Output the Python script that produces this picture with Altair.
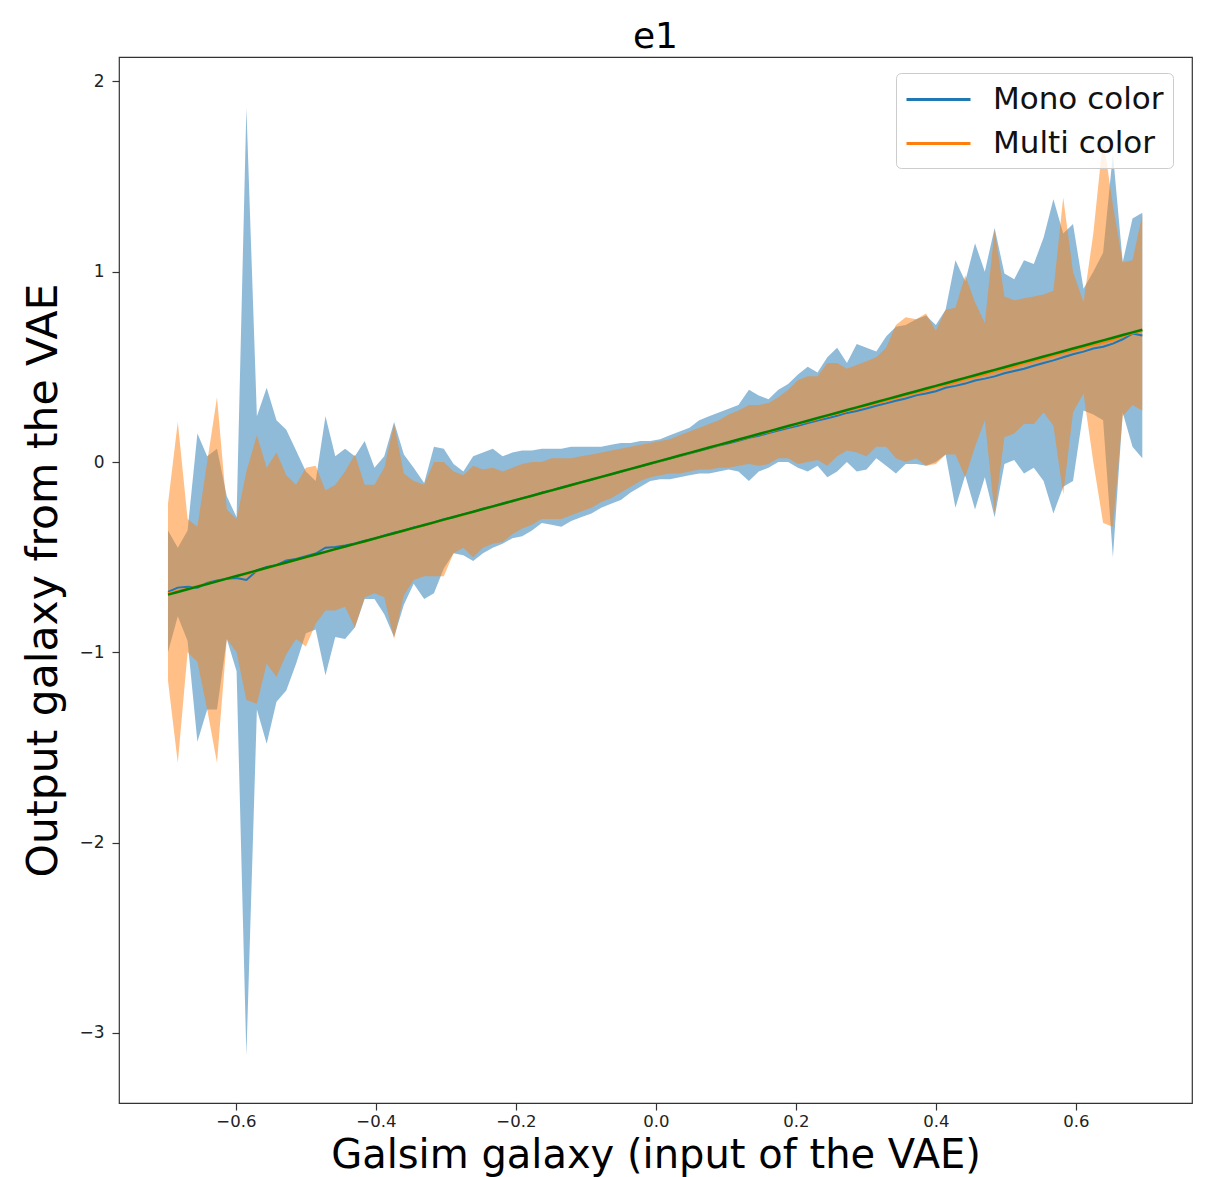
import altair as alt
import pandas as pd

# x grid (input ellipticity bins)
x_vals = [-0.697, -0.683, -0.669, -0.655, -0.641, -0.627, -0.613, -0.599, -0.585, -0.570,
          -0.556, -0.542, -0.528, -0.514, -0.500, -0.486, -0.472, -0.458, -0.444, -0.430,
          -0.416, -0.402, -0.388, -0.374, -0.360, -0.346, -0.331, -0.317, -0.303, -0.289,
          -0.275, -0.261, -0.247, -0.233, -0.219, -0.205, -0.191, -0.177, -0.163, -0.149,
          -0.135, -0.121, -0.107, -0.092, -0.078, -0.064, -0.050, -0.036, -0.022, -0.008,
          0.006, 0.020, 0.034, 0.048, 0.062, 0.076, 0.090, 0.104, 0.118, 0.133,
          0.147, 0.161, 0.175, 0.189, 0.203, 0.217, 0.231, 0.245, 0.259, 0.273,
          0.287, 0.301, 0.315, 0.329, 0.343, 0.357, 0.372, 0.386, 0.400, 0.414,
          0.428, 0.442, 0.456, 0.470, 0.484, 0.498, 0.512, 0.526, 0.540, 0.554,
          0.568, 0.582, 0.596, 0.611, 0.625, 0.639, 0.653, 0.667, 0.681, 0.695]

# Mono color band
mono_hi = [-0.36, -0.45, -0.36, 0.15, 0.03, 0.07, -0.18, -0.29, 1.86, 0.24,
           0.39, 0.22, 0.17, 0.06, -0.05, -0.10, 0.24, 0.03, 0.07, 0.03,
           0.11, -0.03, 0.03, 0.21, 0.04, -0.03, -0.11, 0.08, 0.07, -0.01,
           -0.05, 0.03, 0.05, 0.07, 0.03, 0.05, 0.06, 0.06, 0.07, 0.07,
           0.07, 0.08, 0.08, 0.08, 0.08, 0.09, 0.10, 0.10, 0.11, 0.11,
           0.12, 0.14, 0.16, 0.18, 0.22, 0.24, 0.26, 0.28, 0.30, 0.38,
           0.35, 0.33, 0.38, 0.41, 0.46, 0.50, 0.47, 0.55, 0.60, 0.52,
           0.62, 0.60, 0.58, 0.66, 0.71, 0.72, 0.75, 0.77, 0.72, 0.80,
           1.06, 0.95, 1.15, 1.00, 1.23, 0.99, 0.96, 1.06, 1.04, 1.18,
           1.38, 1.20, 1.25, 0.91, 1.00, 1.10, 1.62, 1.05, 1.28, 1.31]
mono_lo = [-1.00, -0.81, -0.94, -1.47, -1.30, -1.30, -0.93, -1.10, -3.12, -1.30,
           -1.48, -1.26, -1.20, -1.06, -0.90, -0.88, -1.12, -0.92, -0.93, -0.87,
           -0.72, -0.72, -0.80, -0.92, -0.75, -0.64, -0.72, -0.69, -0.56, -0.48,
           -0.49, -0.52, -0.48, -0.45, -0.43, -0.40, -0.39, -0.36, -0.32, -0.33,
           -0.34, -0.31, -0.29, -0.27, -0.24, -0.22, -0.20, -0.16, -0.13, -0.10,
           -0.09, -0.09, -0.08, -0.07, -0.06, -0.06, -0.05, -0.04, -0.05, -0.10,
           -0.05, -0.03, 0.00, 0.00, -0.03, -0.05, -0.02, -0.08, -0.05, 0.00,
           -0.05, -0.04, 0.02, -0.02, -0.06, -0.01, -0.01, -0.02, 0.00, 0.04,
           -0.24, -0.07, -0.25, -0.08, -0.29, -0.01, 0.01, -0.06, -0.03, -0.10,
           -0.27, -0.13, -0.10, 0.27, 0.25, 0.22, -0.50, 0.26, 0.08, 0.02]

# Multi color band
multi_hi = [-0.22, 0.21, -0.30, -0.34, 0.00, 0.34, -0.25, -0.30, -0.05, 0.14,
            -0.03, 0.05, -0.07, -0.12, -0.03, -0.02, -0.15, -0.12, -0.05, 0.04,
            -0.12, -0.12, -0.03, 0.20, -0.06, -0.10, -0.12, 0.00, 0.00, -0.05,
            -0.07, -0.02, -0.04, -0.03, -0.05, -0.03, -0.01, 0.00, 0.00, 0.02,
            0.02, 0.02, 0.03, 0.04, 0.05, 0.06, 0.07, 0.08, 0.09, 0.10,
            0.11, 0.12, 0.14, 0.16, 0.18, 0.20, 0.22, 0.25, 0.27, 0.30,
            0.30, 0.31, 0.34, 0.38, 0.43, 0.45, 0.45, 0.52, 0.52, 0.49,
            0.51, 0.53, 0.55, 0.60, 0.72, 0.76, 0.75, 0.78, 0.69, 0.80,
            0.81, 0.98, 0.84, 0.73, 1.22, 0.87, 0.85, 0.86, 0.87, 0.88,
            0.90, 1.39, 1.00, 0.84, 1.20, 1.70, 1.35, 1.05, 1.06, 1.30]
multi_lo = [-1.15, -1.58, -1.00, -1.05, -1.30, -1.58, -0.93, -1.00, -1.25, -1.27,
            -1.06, -1.13, -1.01, -0.93, -0.97, -0.85, -0.78, -0.78, -0.76, -0.87,
            -0.71, -0.69, -0.71, -0.93, -0.70, -0.62, -0.60, -0.60, -0.60, -0.48,
            -0.45, -0.50, -0.45, -0.43, -0.42, -0.38, -0.35, -0.33, -0.30, -0.30,
            -0.30, -0.28, -0.26, -0.24, -0.21, -0.19, -0.16, -0.13, -0.10, -0.08,
            -0.07, -0.06, -0.06, -0.05, -0.04, -0.04, -0.03, -0.03, -0.02, -0.01,
            -0.02, -0.01, 0.02, 0.02, -0.01, 0.00, 0.01, -0.02, 0.03, 0.06,
            0.05, 0.03, 0.08, 0.08, 0.02, 0.00, 0.02, -0.02, -0.01, 0.04,
            0.04, -0.08, 0.08, 0.22, -0.27, 0.13, 0.15, 0.20, 0.20, 0.26,
            0.19, -0.17, 0.26, 0.36, 0.00, -0.32, -0.34, 0.24, 0.30, 0.27]

# Mean outputs
mono_mean = [-0.682, -0.660, -0.655, -0.660, -0.636, -0.622, -0.613, -0.609, -0.620, -0.570,
             -0.551, -0.542, -0.518, -0.509, -0.495, -0.481, -0.450, -0.446, -0.439, -0.428,
             -0.414, -0.403, -0.386, -0.372, -0.361, -0.344, -0.333, -0.318, -0.301, -0.290,
             -0.274, -0.262, -0.246, -0.234, -0.218, -0.206, -0.190, -0.178, -0.162, -0.150,
             -0.134, -0.122, -0.106, -0.094, -0.078, -0.065, -0.051, -0.037, -0.023, -0.010,
             0.004, 0.018, 0.031, 0.045, 0.059, 0.072, 0.086, 0.099, 0.112, 0.127,
             0.138, 0.152, 0.165, 0.178, 0.190, 0.205, 0.218, 0.230, 0.243, 0.258,
             0.268, 0.281, 0.296, 0.308, 0.322, 0.334, 0.350, 0.360, 0.372, 0.390,
             0.400, 0.412, 0.428, 0.438, 0.450, 0.466, 0.478, 0.490, 0.506, 0.520,
             0.534, 0.550, 0.566, 0.580, 0.596, 0.606, 0.622, 0.645, 0.675, 0.665]
multi_mean = [-0.690, -0.678, -0.666, -0.652, -0.640, -0.628, -0.612, -0.600, -0.590, -0.573,
              -0.558, -0.545, -0.530, -0.515, -0.502, -0.488, -0.475, -0.460, -0.446, -0.432,
              -0.419, -0.404, -0.390, -0.376, -0.363, -0.348, -0.334, -0.320, -0.305, -0.291,
              -0.278, -0.263, -0.249, -0.235, -0.221, -0.207, -0.193, -0.179, -0.165, -0.151,
              -0.137, -0.123, -0.109, -0.094, -0.080, -0.066, -0.052, -0.038, -0.024, -0.010,
              0.004, 0.018, 0.032, 0.046, 0.060, 0.074, 0.088, 0.102, 0.116, 0.130,
              0.144, 0.157, 0.172, 0.185, 0.199, 0.212, 0.226, 0.242, 0.254, 0.268,
              0.281, 0.296, 0.308, 0.322, 0.336, 0.350, 0.364, 0.376, 0.392, 0.404,
              0.418, 0.434, 0.446, 0.460, 0.476, 0.488, 0.500, 0.518, 0.530, 0.544,
              0.558, 0.574, 0.586, 0.600, 0.614, 0.628, 0.642, 0.660, 0.676, 0.690]

series_names = ["Mono color", "Multi color"]
series_colors = ["#1f77b4", "#ff7f0e"]
identity_color = "#008000"

mono_band = pd.DataFrame({"x": x_vals, "lo": mono_lo, "hi": mono_hi})
multi_band = pd.DataFrame({"x": x_vals, "lo": multi_lo, "hi": multi_hi})
lines_df = pd.concat([
    pd.DataFrame({"x": x_vals, "y": mono_mean, "series": series_names[0]}),
    pd.DataFrame({"x": x_vals, "y": multi_mean, "series": series_names[1]}),
])
ident_df = pd.DataFrame({"x": x_vals, "y": x_vals})

FONT = "DejaVu Sans"

xscale = alt.Scale(domain=[-0.767, 0.766], nice=False, zero=False)
yscale = alt.Scale(domain=[-3.368, 2.128], nice=False, zero=False)

x_axis = alt.Axis(
    values=[-0.6, -0.4, -0.2, 0.0, 0.2, 0.4, 0.6],
    labelExpr="replace(format(datum.value, '.1f'), '-', '\u2212')",
    title="Galsim galaxy (input of the VAE)",
    grid=False, domain=False, tickSize=7, tickColor="#333333", tickWidth=1.2,
    labelFontSize=16.5, labelFont=FONT, labelColor="#222222", labelPadding=3,
    titleFontSize=40, titleFont=FONT, titleFontWeight="normal", titleColor="black",
    titleBaseline="alphabetic", titleY=64,
)
y_axis = alt.Axis(
    values=[-3, -2, -1, 0, 1, 2],
    labelExpr="replace(format(datum.value, 'd'), '-', '\u2212')",
    title="Output galaxy from the VAE",
    grid=False, domain=False, tickSize=7, tickColor="#333333", tickWidth=1.2,
    labelFontSize=17, labelFont=FONT, labelColor="#222222", labelPadding=8,
    titleFontSize=42.5, titleFont=FONT, titleFontWeight="normal", titleColor="black",
    titleBaseline="alphabetic", titleX=-63, titleAngle=270,
)

X = alt.X("x:Q", scale=xscale, axis=x_axis)
Y = alt.Y("y:Q", scale=yscale, axis=y_axis)
Ylo = alt.Y("lo:Q", scale=yscale, axis=y_axis)

mono_area = alt.Chart(mono_band).mark_area(color=series_colors[0], opacity=0.5).encode(
    x=X, y=Ylo, y2="hi:Q")
multi_area = alt.Chart(multi_band).mark_area(color=series_colors[1], opacity=0.5).encode(
    x=X, y=Ylo, y2="hi:Q")

mean_lines = alt.Chart(lines_df).mark_line(strokeWidth=2).encode(
    x=X, y=Y,
    color=alt.Color("series:N",
                    scale=alt.Scale(domain=series_names, range=series_colors),
                    legend=alt.Legend(
                        orient="none", legendX=777, legendY=16, title=None,
                        symbolType="M-1,0H3", symbolSize=1024, symbolStrokeWidth=3,
                        labelFontSize=31, labelFont=FONT, labelColor="#111111",
                        labelLimit=600, labelOffset=53,
                        rowPadding=11, padding=9,
                        strokeColor="#cccccc", fillColor="rgba(255,255,255,0.8)",
                        cornerRadius=5)),
)

ident_line = alt.Chart(ident_df).mark_line(color=identity_color, strokeWidth=2.5).encode(
    x=X, y=Y)

chart = alt.layer(mono_area, multi_area, mean_lines, ident_line).properties(
    width=1073, height=1046,
    title=alt.TitleParams("e1", fontSize=36, font=FONT, fontWeight="normal",
                          anchor="middle", frame="group", offset=10, dy=37,
                          baseline="alphabetic", color="black"),
    padding={"left": 119, "top": 57, "right": 36, "bottom": 74},
    autosize=alt.AutoSizeParams(type="none"),
).configure(
    background="white", font=FONT
).configure_view(
    stroke="#333333", strokeWidth=1.2
)

chart.save("out.html", embed_options={"renderer": "svg", "actions": False})
